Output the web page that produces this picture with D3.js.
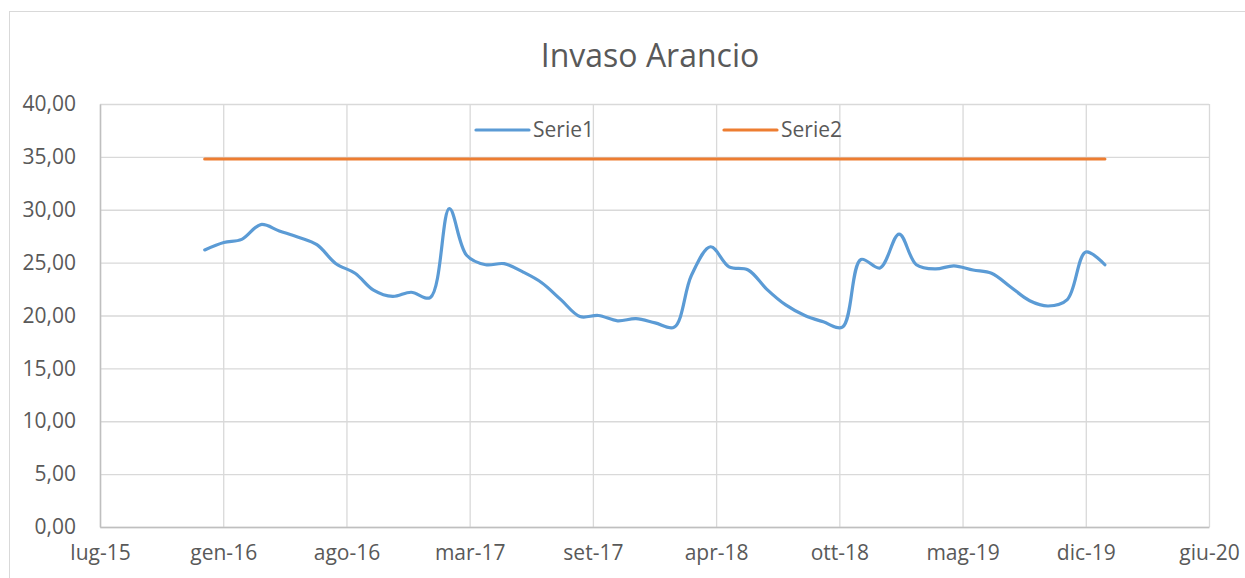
<!DOCTYPE html>
<html>
<head>
<meta charset="utf-8">
<script src="https://cdn.jsdelivr.net/npm/d3@7"></script>
<style>
  body { margin: 0; background: #fff; }
  svg text { font-family: "Open Sans", sans-serif; fill: #595959; }
</style>
</head>
<body>
<svg id="chart" width="1245" height="578"></svg>
<script>
// monthly samples, gen-16 .. gen-20
const months = d3.range(49).map(i => new Date(2016, i, 1));
const serie1 = [
  26.2, 26.9, 27.2, 28.6, 28.0, 27.4, 26.7, 24.9, 24.0, 22.4, 21.8, 22.2,
  21.7, 30.1, 25.7, 24.8, 24.9, 24.1, 23.1, 21.5, 19.9, 20.0, 19.5, 19.7,
  19.3, 18.9, 23.8, 26.5, 24.6, 24.3, 22.5, 21.0, 20.0, 19.4, 18.9, 25.3,
  24.5, 27.7, 24.8, 24.4, 24.7, 24.3, 24.0, 22.7, 21.4, 20.9, 21.5, 26.0,
  24.8
];
const serie2 = months.map(() => 34.8);
const yTicks = [0, 5, 10, 15, 20, 25, 30, 35, 40];
const seriesNames = ["Serie1", "Serie2"];
const colors = ["#5B9BD5", "#ED7D31"];

// excel date axis: major unit 200 days
const axisStart = new Date(2015, 6, 15);
const DAY = 864e5;
const xTicks = d3.range(10).map(k => new Date(+axisStart + k * 200 * DAY));
const mesi = ["gen", "feb", "mar", "apr", "mag", "giu", "lug", "ago", "set", "ott", "nov", "dic"];
const fmtDate = d => mesi[d.getMonth()] + "-" + String(d.getFullYear()).slice(2);
const fmtNum = v => d3.format(".2f")(v).replace(".", ",");

const svg = d3.select("#chart");
const margins = { top: 104, right: 36, bottom: 51, left: 100 };
const width = 1245 - margins.left - margins.right;
const height = 578 - margins.top - margins.bottom;

// chart border
svg.append("rect")
  .attr("x", 9.5).attr("y", 11.5)
  .attr("width", 1240).attr("height", 600)
  .attr("fill", "none").attr("stroke", "#d9d9d9");

svg.append("text")
  .attr("x", 650).attr("y", 67)
  .attr("text-anchor", "middle")
  .style("font-size", "32px")
  .text("Invaso Arancio");

const g = svg.append("g")
  .attr("transform", `translate(${margins.left}, ${margins.top})`);

const x = d3.scaleTime()
  .domain([axisStart, xTicks[xTicks.length - 1]])
  .range([0, width]);

const y = d3.scaleLinear()
  .domain([0, 40])
  .range([height, 0]);

// grid
g.append("g")
  .call(d3.axisLeft(y).tickValues(yTicks).tickSize(-width).tickFormat(""))
  .call(a => a.select(".domain").remove())
  .selectAll("line").attr("stroke", "#d9d9d9").attr("stroke-width", 1.3);

g.append("g")
  .attr("transform", `translate(0, ${height})`)
  .call(d3.axisBottom(x).tickValues(xTicks).tickSize(-height).tickFormat(""))
  .call(a => a.select(".domain").remove())
  .selectAll("line").attr("stroke", "#d9d9d9").attr("stroke-width", 1.3);

// axes
const yAxis = g.append("g")
  .call(d3.axisLeft(y).tickValues(yTicks).tickSize(0).tickPadding(24).tickFormat(fmtNum));
yAxis.select(".domain").attr("stroke", "#bfbfbf").attr("stroke-width", 1.5);
yAxis.selectAll("text").style("font-size", "21px").attr("fill", "#595959");

const xAxis = g.append("g")
  .attr("transform", `translate(0, ${height})`)
  .call(d3.axisBottom(x).tickValues(xTicks).tickSize(0).tickPadding(18).tickFormat(fmtDate));
xAxis.select(".domain").attr("stroke", "#bfbfbf").attr("stroke-width", 1.5);
xAxis.selectAll("text").style("font-size", "21px").attr("fill", "#595959");

// lines
const line = d3.line()
  .x((d, i) => x(months[i]))
  .y(d => y(d))
  .curve(d3.curveCatmullRom.alpha(0.5));

[serie2, serie1].forEach((s, k) => {
  g.append("path")
    .datum(s)
    .attr("fill", "none")
    .attr("stroke", k === 0 ? colors[1] : colors[0])
    .attr("stroke-width", 3.2)
    .attr("stroke-linecap", "round")
    .attr("d", line);
});

// legend
const legendX = [476, 724];
seriesNames.forEach((name, i) => {
  const lg = svg.append("g").attr("transform", `translate(${legendX[i]}, 130)`);
  lg.append("line")
    .attr("x1", 0).attr("x2", 53)
    .attr("stroke", colors[i]).attr("stroke-width", 3.2)
    .attr("stroke-linecap", "round");
  lg.append("text")
    .attr("x", 57).attr("y", 7)
    .style("font-size", "21px")
    .text(name);
});
</script>
</body>
</html>
